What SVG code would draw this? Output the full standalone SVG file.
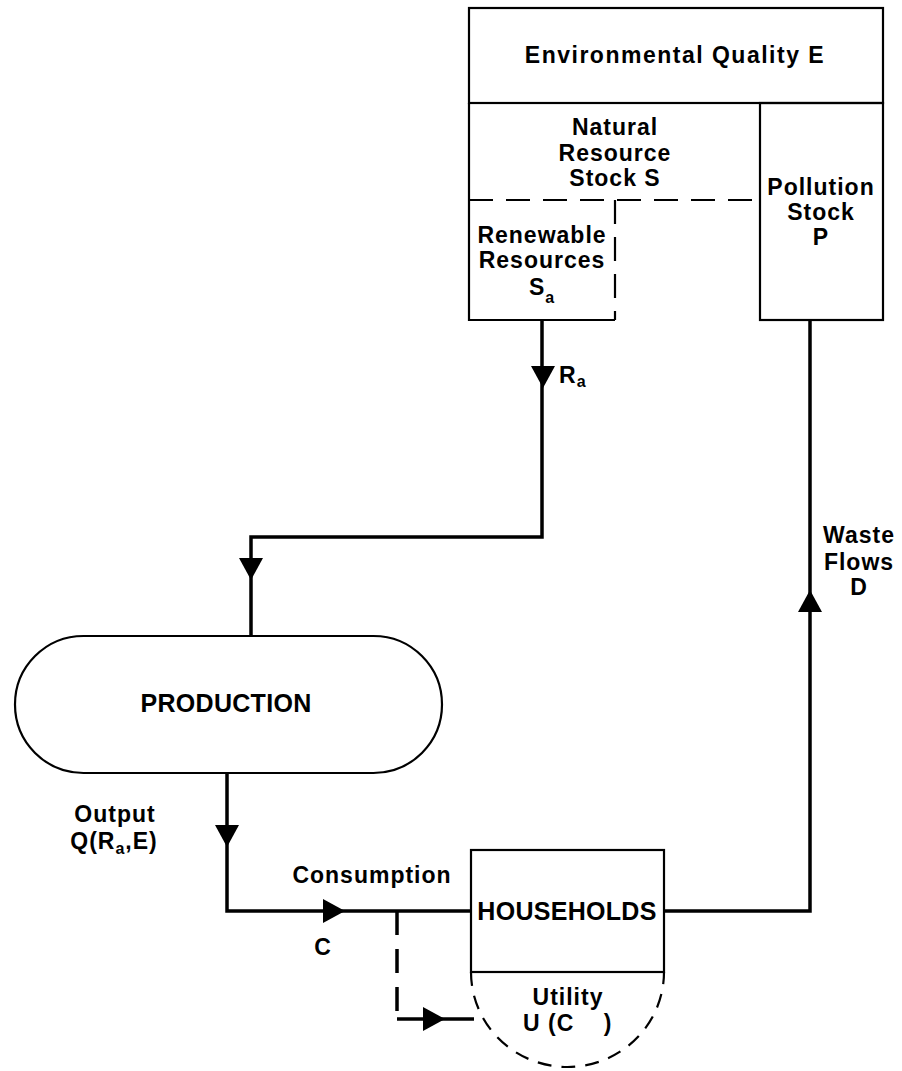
<svg xmlns="http://www.w3.org/2000/svg" xmlns:xlink="http://www.w3.org/1999/xlink" width="902" height="1071" viewBox="0 0 902 1071">
<style>
.box{fill:none;stroke:#000;stroke-width:2.2}
.dash{fill:none;stroke:#000;stroke-width:2.2;stroke-dasharray:24 13}
.flow{fill:none;stroke:#000;stroke-width:3.5;stroke-linejoin:miter}
.flowd{fill:none;stroke:#000;stroke-width:3.5;stroke-dasharray:24 14}
.b{font-family:"Liberation Sans",Arial,sans-serif;font-weight:bold;font-size:23px;letter-spacing:1px;fill:#000;text-anchor:middle}
.sub{font-size:16px}
</style>
<defs>
<polygon id="ah" points="-12,-22 12,-22 0,0" fill="#000"/>
</defs>
<rect width="902" height="1071" fill="#fff"/>

<g id="environmental-quality">
<rect class="box" x="469" y="8" width="414" height="95"/>
<text class="b" x="675" y="63" style="letter-spacing:1.5px">Environmental Quality E</text>
</g>

<g id="natural-resource-stock">
<path class="box" d="M469,103 V320 H615"/>
<path class="dash" d="M469,200 H760"/>
<text class="b" x="615" y="135">Natural</text>
<text class="b" x="615" y="161">Resource</text>
<text class="b" x="615" y="186">Stock S</text>
</g>

<g id="renewable-resources">
<path class="dash" d="M615,200 V320"/>
<text class="b" x="542" y="243">Renewable</text>
<text class="b" x="542" y="268">Resources</text>
<text class="b" x="542" y="295">S<tspan class="sub" dy="8">a</tspan></text>
</g>

<g id="pollution-stock">
<rect class="box" x="760" y="103" width="123" height="217"/>
<text class="b" x="821" y="195">Pollution</text>
<text class="b" x="821" y="220">Stock</text>
<text class="b" x="821" y="245">P</text>
</g>

<g id="production">
<rect class="box" x="15" y="636" width="427" height="137" rx="68.5" ry="68.5"/>
<text class="b" x="226" y="712" style="font-size:25px;letter-spacing:0.3px">PRODUCTION</text>
</g>

<g id="households">
<rect class="box" x="471" y="850" width="193" height="122"/>
<text class="b" x="567" y="920" style="font-size:25px;letter-spacing:0.3px">HOUSEHOLDS</text>
</g>

<g id="utility">
<path class="dash" d="M471,972 A96.5,95 0 0 0 664,972" style="stroke-dasharray:14 10"/>
<text class="b" x="568" y="1005">Utility</text>
<text class="b" x="523" y="1031" style="text-anchor:start;white-space:pre" xml:space="preserve">U (C    )</text>
</g>

<g id="connectors">
<path class="flow" d="M542,320 V537 H251 V636"/>
<use xlink:href="#ah" href="#ah" transform="translate(543,388)"/>
<use xlink:href="#ah" href="#ah" transform="translate(251,580)"/>
<path class="flow" d="M227,773 V911 H471"/>
<use xlink:href="#ah" href="#ah" transform="translate(227,847)"/>
<use xlink:href="#ah" href="#ah" transform="translate(345,911) rotate(-90)"/>
<path class="flowd" d="M397,911 V1019"/>
<path class="flow" d="M397,1019 H474"/>
<use xlink:href="#ah" href="#ah" transform="translate(445,1019) rotate(-90)"/>
<path class="flow" d="M664,911 H810 V320"/>
<use xlink:href="#ah" href="#ah" transform="translate(810,590) rotate(180)"/>
</g>

<g id="labels">
<text class="b" x="559" y="383" style="text-anchor:start">R<tspan class="sub" dy="4">a</tspan></text>
<text class="b" x="115" y="822">Output</text>
<text class="b" x="114" y="849">Q(R<tspan class="sub" dy="5">a</tspan><tspan dy="-5">,E)</tspan></text>
<text class="b" x="372" y="883">Consumption</text>
<text class="b" x="323" y="955">C</text>
<text class="b" x="859" y="543">Waste</text>
<text class="b" x="859" y="570">Flows</text>
<text class="b" x="859" y="595">D</text>
</g>
</svg>
